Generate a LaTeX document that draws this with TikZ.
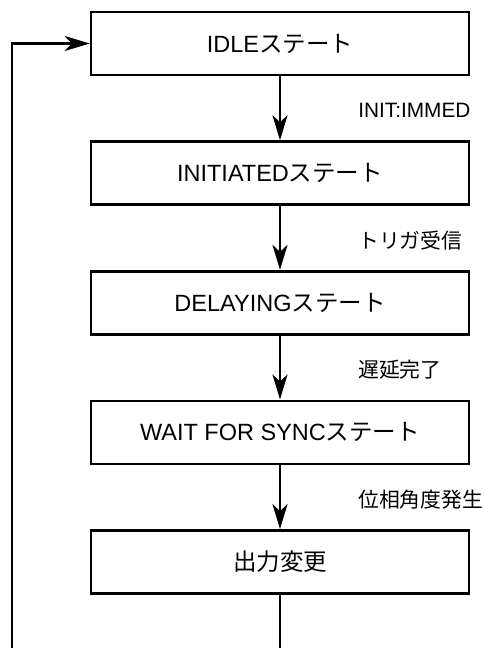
\documentclass[tikz,border=0pt]{standalone}
\usepackage{fontspec}
\setmainfont{Liberation Sans}
\newfontfamily\jp{Noto Sans CJK JP}
\usetikzlibrary{positioning}
\usetikzlibrary{arrows.meta}
\tikzset {
  node distance={64pt},
  % state boxes
  state/.style = {draw, line width=2.6pt, minimum width=378pt, minimum height=63pt,
    inner sep=0pt, font=\fontsize{23.5}{26}\selectfont},
  % transitions between states
  trans/.style = {line width=2.6pt, -{Stealth[length=25pt, width=15pt, inset=7pt]}},
  % conditions next to a transition
  cond/.style = {midway, anchor=west, inner sep=0pt, xshift=77pt, yshift=-2.5pt,
    font=\fontsize{20.8}{23}\selectfont},
}

\begin{document}
\begin{tikzpicture}[x=1pt, y=-1pt]
  \useasboundingbox (0,0) rectangle (484,648);

  \node[state] (idle) at (280,43.5) {IDLE{\jp ステート}};
  \node[state, below=of idle] (init) {INITIATED{\jp ステート}};
  \node[state, below=of init] (delay) {DELAYING{\jp ステート}};
  \node[state, below=of delay] (sync) {WAIT FOR SYNC{\jp ステート}};
  \node[state, below=of sync] (out) {{\jp 出力変更}};

  \coordinate (outend) at (280,648);
  \coordinate (loopend) at (12,648);

  \draw [trans] (idle) -- node[cond] {INIT:IMMED} (init);
  \draw [trans] (init) -- node[cond] {\jp トリガ受信} (delay);
  \draw [trans] (delay) -- node[cond] {\jp 遅延完了} (sync);
  \draw [trans] (sync) -- node[cond] {\jp 位相角度発生} (out);
  \draw [line width=2.6pt] (out) -- (outend);
  \draw [trans] (loopend) |- (idle);
\end{tikzpicture}
\end{document}
